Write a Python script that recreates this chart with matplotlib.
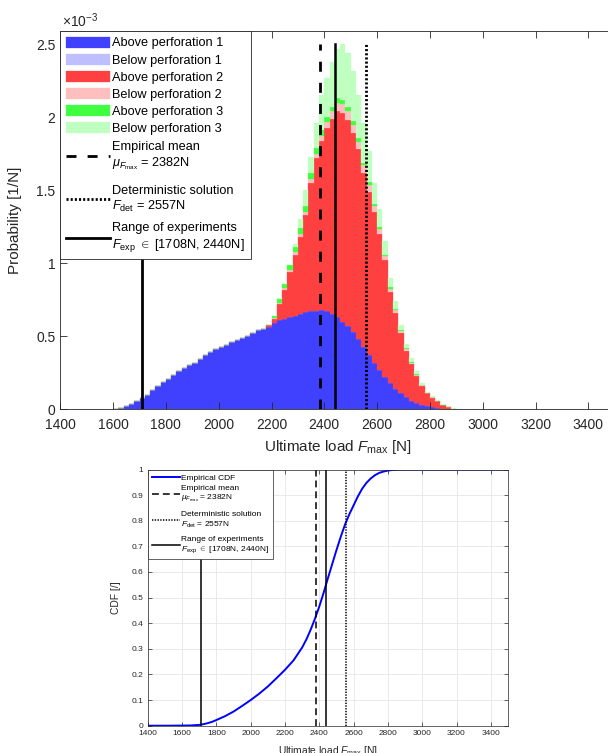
import numpy as np
import matplotlib
matplotlib.use("Agg")
import matplotlib.pyplot as plt
from matplotlib.ticker import FormatStrFormatter
from matplotlib.offsetbox import DrawingArea

plt.rcParams['font.family'] = ['Liberation Sans', 'DejaVu Sans']
plt.rcParams['mathtext.fontset'] = 'custom'
plt.rcParams['mathtext.rm'] = 'Liberation Sans'
plt.rcParams['mathtext.it'] = 'Liberation Sans:italic'
plt.rcParams['mathtext.bf'] = 'Liberation Sans:bold'

# ---------------- data (probability density in units of 1e-3 1/N) ----------------
BIN_START = 1600
BIN_WIDTH = 20
above_perf_1 = [0.005, 0.012, 0.02, 0.035, 0.055, 0.075, 0.10, 0.13, 0.16, 0.19,
                0.21, 0.235, 0.26, 0.28, 0.30, 0.32, 0.345, 0.37, 0.39, 0.41,
                0.425, 0.44, 0.46, 0.475, 0.49, 0.50, 0.52, 0.54, 0.55, 0.565,
                0.59, 0.61, 0.62, 0.63, 0.64, 0.655, 0.665, 0.67, 0.675, 0.68,
                0.67, 0.65, 0.63, 0.60, 0.57, 0.53, 0.48, 0.43, 0.37, 0.32,
                0.27, 0.22, 0.18, 0.14, 0.11, 0.085, 0.06, 0.045, 0.03, 0.02,
                0.013, 0.008, 0.005, 0.002, 0.001]
below_perf_1 = [0, 0, 0, 0, 0, 0, 0, 0, 0, 0, 0, 0, 0, 0, 0, 0, 0, 0, 0, 0,
                0, 0, 0, 0, 0, 0, 0, 0, 0, 0, 0, 0, 0, 0, 0, 0, 0, 0, 0, 0,
                0, 0, 0, 0, 0, 0, 0, 0, 0, 0, 0, 0, 0, 0, 0, 0, 0, 0, 0, 0,
                0, 0, 0, 0, 0]
above_perf_2 = [0, 0, 0, 0, 0, 0, 0, 0, 0, 0, 0, 0, 0, 0, 0, 0, 0, 0, 0, 0,
                0, 0, 0, 0, 0, 0, 0, 0, 0,
                0.01, 0.03, 0.11, 0.20, 0.31, 0.42, 0.525, 0.665, 0.88, 1.045,
                1.16, 1.26, 1.34, 1.41, 1.43, 1.41, 1.36, 1.30, 1.19, 1.12,
                1.03, 0.93, 0.80, 0.62, 0.52, 0.41, 0.315, 0.25, 0.185, 0.13,
                0.09, 0.067, 0.047, 0.025, 0.013, 0.004]
below_perf_2 = [0, 0, 0, 0, 0, 0, 0, 0, 0, 0, 0, 0, 0, 0, 0, 0, 0, 0, 0, 0,
                0, 0, 0, 0, 0, 0, 0, 0, 0, 0,
                0.005, 0.01, 0.01, 0.015, 0.015, 0.02, 0.02, 0.025, 0.03, 0.035,
                0.04, 0.05, 0.06, 0.06, 0.06, 0.055, 0.05, 0.05, 0.045, 0.04,
                0.035, 0.03, 0.025, 0.02, 0.015, 0.012, 0.01, 0.008, 0.005, 0.003,
                0.002, 0.002, 0.001, 0.001, 0]
above_perf_3 = [0, 0, 0, 0, 0, 0, 0, 0, 0, 0, 0, 0, 0, 0, 0, 0, 0, 0, 0, 0,
                0, 0, 0, 0, 0, 0, 0, 0, 0,
                0.005, 0.015, 0.025, 0.025, 0.03, 0.035, 0.04, 0.04, 0.04, 0.04,
                0.035, 0.035, 0.03, 0.03, 0.03, 0.03, 0.03, 0.025, 0.02, 0.02,
                0.015, 0.015, 0.01, 0.01, 0.008, 0.005, 0.005, 0.004, 0.003, 0.002,
                0.001, 0.001, 0.001, 0, 0, 0]
below_perf_3 = [0, 0, 0, 0, 0, 0, 0, 0, 0, 0, 0, 0, 0, 0, 0, 0, 0, 0, 0, 0,
                0, 0, 0, 0, 0, 0, 0, 0, 0, 0, 0,
                0.005, 0.005, 0.005, 0.02, 0.06, 0.11, 0.115, 0.17, 0.24, 0.265,
                0.31, 0.34, 0.38, 0.37, 0.345, 0.295, 0.27, 0.215, 0.145, 0.12,
                0.09, 0.065, 0.052, 0.04, 0.033, 0.026, 0.019, 0.013, 0.007, 0.005,
                0.004, 0.004, 0.002, 0.001]

series_labels = ['Above perforation 1', 'Below perforation 1',
                 'Above perforation 2', 'Below perforation 2',
                 'Above perforation 3', 'Below perforation 3']
series_colors = ['#4040ff', '#bfbfff', '#ff4040', '#ffbfbf', '#40ff40', '#bfffbf']

emp_mean = 2382
det_sol = 2557
exp_range = [1708, 2440]
lines_top = 2.5  # top of reference lines in the histogram (1e-3 1/N)

cdf_load = [1400, 1500, 1600, 1650, 1700, 1725, 1750, 1775, 1800, 1850, 1900,
            1950, 2000, 2050, 2100, 2150, 2200, 2250, 2300, 2325, 2350, 2375,
            2400, 2425, 2450, 2475, 2500, 2525, 2550, 2575, 2600, 2625, 2650,
            2675, 2700, 2725, 2750, 2775, 2800, 2825, 2850, 2900, 3500]
cdf_value = [0, 0, 0.0005, 0.001, 0.003, 0.006, 0.01, 0.015, 0.022, 0.037, 0.055,
             0.077, 0.10, 0.125, 0.153, 0.185, 0.218, 0.255, 0.305, 0.337, 0.375, 0.418,
             0.465, 0.518, 0.575, 0.63, 0.685, 0.737, 0.785, 0.825, 0.86, 0.895, 0.925,
             0.948, 0.965, 0.978, 0.987, 0.992, 0.996, 0.998, 0.999, 1.0, 1.0]

mean_label = 'Empirical mean\n' + r'$\mu_{F_{\mathrm{max}}}$' + ' = %dN' % emp_mean
det_label = 'Deterministic solution\n' + r'$F_{\mathrm{det}}$' + ' = %dN' % det_sol
exp_label = ('Range of experiments\n' + r'$F_{\mathrm{exp}}\ \in$' +
             ' [%dN, %dN]' % (exp_range[0], exp_range[1]))

# ---------------- figure ----------------
W, H = 608, 753
fig = plt.figure(figsize=(W / 100, H / 100), dpi=100)
axc = '#262626'


def px_axes(l, t, r, b):
    return fig.add_axes([l / W, 1 - b / H, (r - l) / W, (b - t) / H])


def set_legend_gaps(leg, gaps_px):
    """Give every gap between legend entries its own height (in pixels)."""
    col = leg._legend_handle_box.get_children()[0]
    items = list(col.get_children())
    new = [items[0]]
    for it, g in zip(items[1:], gaps_px):
        new.append(DrawingArea(1, g * 72.0 / fig.dpi))
        new.append(it)
    col._children = new
    col.sep = 0


# ---- top: stacked histogram ----
ax = px_axes(60.3, 30.7, 614.7, 409.3)
series = [above_perf_1, below_perf_1, above_perf_2, below_perf_2, above_perf_3, below_perf_3]
n_bins = len(above_perf_1)
edges = BIN_START + BIN_WIDTH * np.arange(n_bins)
bottom = np.zeros(n_bins)
handles = []
for vals, lab, col in zip(series, series_labels, series_colors):
    vals = np.asarray(vals, dtype=float)
    h = ax.bar(edges, vals, width=BIN_WIDTH, bottom=bottom, align='edge',
               color=col, edgecolor=col, linewidth=0.2, label=lab)
    handles.append(h)
    bottom = bottom + vals

lw = 2.0
l1, = ax.plot([emp_mean, emp_mean], [0, lines_top], color='k', lw=lw,
              linestyle=(0, (3.6, 4.0)), label=mean_label)
l2, = ax.plot([det_sol, det_sol], [0, lines_top], color='k', lw=lw,
              linestyle=(0, (0.75, 0.75)), label=det_label)
l3, = ax.plot([exp_range[0], exp_range[0]], [0, lines_top], color='k', lw=lw,
              label=exp_label)
ax.plot([exp_range[1], exp_range[1]], [0, lines_top], color='k', lw=1.8)

ax.set_xlim(1400, 3500)
ax.set_ylim(0, 2.593)
ax.set_xticks(np.arange(1400, 3401, 200))
ax.set_yticks([0, 0.5, 1, 1.5, 2, 2.5])
ax.yaxis.set_major_formatter(FormatStrFormatter('%g'))
ax.tick_params(direction='in', length=5, width=0.6, colors=axc, labelsize=10,
               top=True, right=True, pad=3.5)
ax.tick_params(axis='x', pad=6)
for s in ax.spines.values():
    s.set_color(axc)
    s.set_linewidth(0.6)
ax.set_xlabel(r'Ultimate load $F_{\mathrm{max}}$ [N]', fontsize=11, color=axc)
ax.set_ylabel('Probability [1/N]', fontsize=11, color=axc)
ax.xaxis.set_label_coords(0.5, -0.077)
ax.yaxis.set_label_coords(-0.069, 0.5)
fig.text(62 / W, 1 - 27 / H, r'$\times10^{-3}$', fontsize=10, color=axc,
         ha='left', va='baseline')

leg = ax.legend(handles + [l1, l2, l3],
                series_labels + [mean_label, det_label, exp_label],
                loc='upper left', bbox_to_anchor=(0, 1), borderaxespad=0,
                fontsize=9.2, frameon=True, fancybox=False, framealpha=1,
                edgecolor=axc, handlelength=3.4, handleheight=0.95,
                handletextpad=0.2, labelspacing=0.22, borderpad=0.46)
leg.get_frame().set_linewidth(0.6)
set_legend_gaps(leg, [4.2, 4.2, 4.2, 4.2, 4.2, 5.8, 13.0, 8.5])

# ---- bottom: CDF ----
ax2 = px_axes(147.7, 469.5, 508.0, 725.7)
c1, = ax2.plot(cdf_load, cdf_value, color='#0000ff', lw=1.4, label='Empirical CDF')
d1 = ax2.axvline(emp_mean, color='k', lw=1.1, linestyle=(0, (4.5, 2.6)), label=mean_label)
d2 = ax2.axvline(det_sol, color='k', lw=1.1, linestyle=(0, (0.9, 0.9)), label=det_label)
d3 = ax2.axvline(exp_range[0], color='k', lw=1.1, label=exp_label)
ax2.axvline(exp_range[1], color='k', lw=1.1)
ax2.set_xlim(1400, 3500)
ax2.set_ylim(0, 1)
ax2.set_xticks(np.arange(1400, 3401, 200))
ax2.set_yticks(np.linspace(0, 1, 11))
ax2.yaxis.set_major_formatter(FormatStrFormatter('%g'))
ax2.grid(True, color='#e6e6e6', linewidth=0.6)
ax2.set_axisbelow(True)
ax2.tick_params(direction='in', length=3, width=0.5, colors=axc, labelsize=6,
                top=True, right=True, pad=3)
for s in ax2.spines.values():
    s.set_color(axc)
    s.set_linewidth(0.5)
ax2.set_xlabel(r'Ultimate load $F_{\mathrm{max}}$ [N]', fontsize=7.4, color=axc)
ax2.set_ylabel('CDF [/]', fontsize=7.4, color=axc)
ax2.xaxis.set_label_coords(0.5, -0.071)
ax2.yaxis.set_label_coords(-0.074, 0.5)
leg2 = ax2.legend([c1, d1, d2, d3],
                  ['Empirical CDF', mean_label, det_label, exp_label],
                  loc='upper left', bbox_to_anchor=(0, 1), borderaxespad=0,
                  fontsize=6, frameon=True, fancybox=False, framealpha=1,
                  edgecolor=axc, handlelength=3.36, handletextpad=0.15,
                  labelspacing=0.25, borderpad=0.5)
leg2.get_frame().set_linewidth(0.5)
set_legend_gaps(leg2, [3.0, 7.2, 6.4])

fig.savefig('out.png', dpi=100)
